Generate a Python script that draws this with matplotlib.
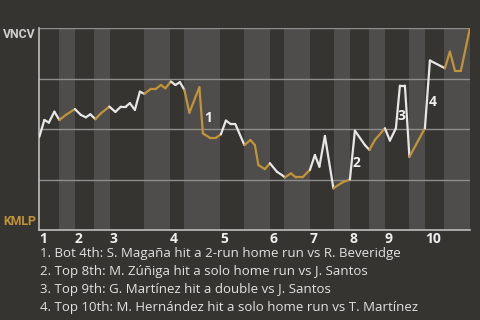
import numpy as np
import matplotlib
matplotlib.use("Agg")
import matplotlib.pyplot as plt

plt.rcParams['font.family'] = ['Open Sans', 'DejaVu Sans']

# Datos: progreso del juego (jugadas) y probabilidad de victoria de VNCV
jugada = [0, 1.0, 1.9, 3.0, 4.0, 5.3, 7.1, 8.3, 9.3, 10.2, 11.2, 12.3, 14.0, 15.2,
          16.3, 17.3, 18.1, 19.1, 20.1, 21.0, 22.3, 23.3, 24.3, 25.2, 26.3, 27.2,
          28.1, 29.0, 30.0, 32.0, 32.7, 33.0, 34.1, 35.3, 36.3, 37.3, 38.3, 39.2,
          41.0, 42.2, 43.1, 43.8, 45.1, 46.1, 47.5, 48.5, 49.1, 50.3, 51.3, 52.6,
          54.1, 55.1, 56.0, 57.1, 58.8, 60.5, 62.1, 63.1, 65.1, 66.0, 67.1, 69.1,
          70.1, 71.3, 72.1, 73.1, 74.0, 77.1, 78.1, 81.1, 82.1, 83.1, 84.3, 86.1]
prob = [0.463, 0.546, 0.533, 0.587, 0.546, 0.571, 0.600, 0.571, 0.559, 0.574,
        0.550, 0.579, 0.612, 0.586, 0.612, 0.612, 0.629, 0.596, 0.686, 0.675,
        0.700, 0.700, 0.719, 0.703, 0.736, 0.719, 0.733, 0.695, 0.582, 0.708,
        0.480, 0.475, 0.458, 0.458, 0.475, 0.543, 0.525, 0.525, 0.422, 0.447,
        0.422, 0.323, 0.303, 0.332, 0.290, 0.274, 0.262, 0.282, 0.262, 0.262,
        0.299, 0.373, 0.315, 0.467, 0.208, 0.236, 0.252, 0.493, 0.422, 0.398,
        0.447, 0.505, 0.444, 0.505, 0.716, 0.716, 0.364, 0.505, 0.840, 0.802,
        0.884, 0.790, 0.790, 1.0]

# Limites de cada media entrada
medias = [0, 3.9, 7.1, 10.9, 14.1, 20.9, 26.1, 28.9, 36.1, 40.9, 46.1, 48.9,
          54.1, 58.9, 62.1, 65.9, 69.1, 73.9, 77.1, 80.9, 86.1]
entradas = ['1', '2', '3', '4', '5', '6', '7', '8', '9', '10']

# Jugadas destacadas
notas_x = [33.7, 63.5, 72.5, 78.6]
notas_y = [0.557, 0.335, 0.567, 0.634]
notas_txt = ['1', '2', '3', '4']
leyenda = ["1. Bot 4th: S. Magaña hit a 2-run home run vs R. Beveridge",
           "2. Top 8th: M. Zúñiga hit a solo home run vs J. Santos",
           "3. Top 9th: G. Martínez hit a double vs J. Santos",
           "4. Top 10th: M. Hernández hit a solo home run vs T. Martínez"]

fondo = '#363430'
banda = '#4e4d4b'
blanco = '#e6e6e6'
dorado = '#c29438'
estrecha = ['Roboto', 'DejaVu Sans']

fig = plt.figure(figsize=(4.8, 3.2), dpi=100, facecolor=fondo)
ax = fig.add_axes([0.082, 0.280, 0.897, 0.632])
ax.set_facecolor(fondo)

# Bandas claras para la parte baja de cada entrada
for i in range(1, len(medias) - 1, 2):
    ax.axvspan(medias[i], medias[i + 1], color=banda, lw=0, zorder=0)

for g in [0.25, 0.5, 0.75, 1.0]:
    ax.axhline(g, color='#8e8e8c', lw=1, zorder=1)

# Se dibuja la linea por segmentos, color segun la media entrada
for k in range(len(jugada) - 1):
    medio = (jugada[k] + jugada[k + 1]) / 2
    idx = np.searchsorted(medias, medio) - 1
    c = blanco if idx % 2 == 0 else dorado
    ax.plot(jugada[k:k + 2], prob[k:k + 2], color=c, lw=1.6,
            solid_capstyle='round', zorder=3)

for x, y, t in zip(notas_x, notas_y, notas_txt):
    ax.text(x, y, t, color='#f0f0f0', fontsize=10, fontweight='bold',
            ha='center', va='center', zorder=4)

ax.set_xlim(0, medias[-1])
ax.set_ylim(0, 1)
ax.set_yticks([])
ax.set_xticks(medias[0:-1:2])
ax.set_xticklabels(entradas, ha='left', color='#eeeeee', fontsize=10,
                   fontweight='bold')
ax.tick_params(axis='x', length=0, pad=1)
for s in ['top', 'right']:
    ax.spines[s].set_visible(False)
for s in ['left', 'bottom']:
    ax.spines[s].set_color('#bdbdbd')
    ax.spines[s].set_linewidth(1.2)

fig.text(0.006, 0.891, 'VNCV', color='#cfcfcf', fontsize=8.8,
         fontweight='bold', family=estrecha, va='center')
fig.text(0.006, 0.309, 'KMLP', color=dorado, fontsize=8.8,
         fontweight='bold', family=estrecha, va='center')

for i, linea in enumerate(leyenda):
    fig.text(40 / 480, 1 - (254 + 18 * i) / 320, linea, color='#e2e2e2',
             fontsize=9.5, va='center')

fig.savefig('out.png', dpi=100, facecolor=fondo)
